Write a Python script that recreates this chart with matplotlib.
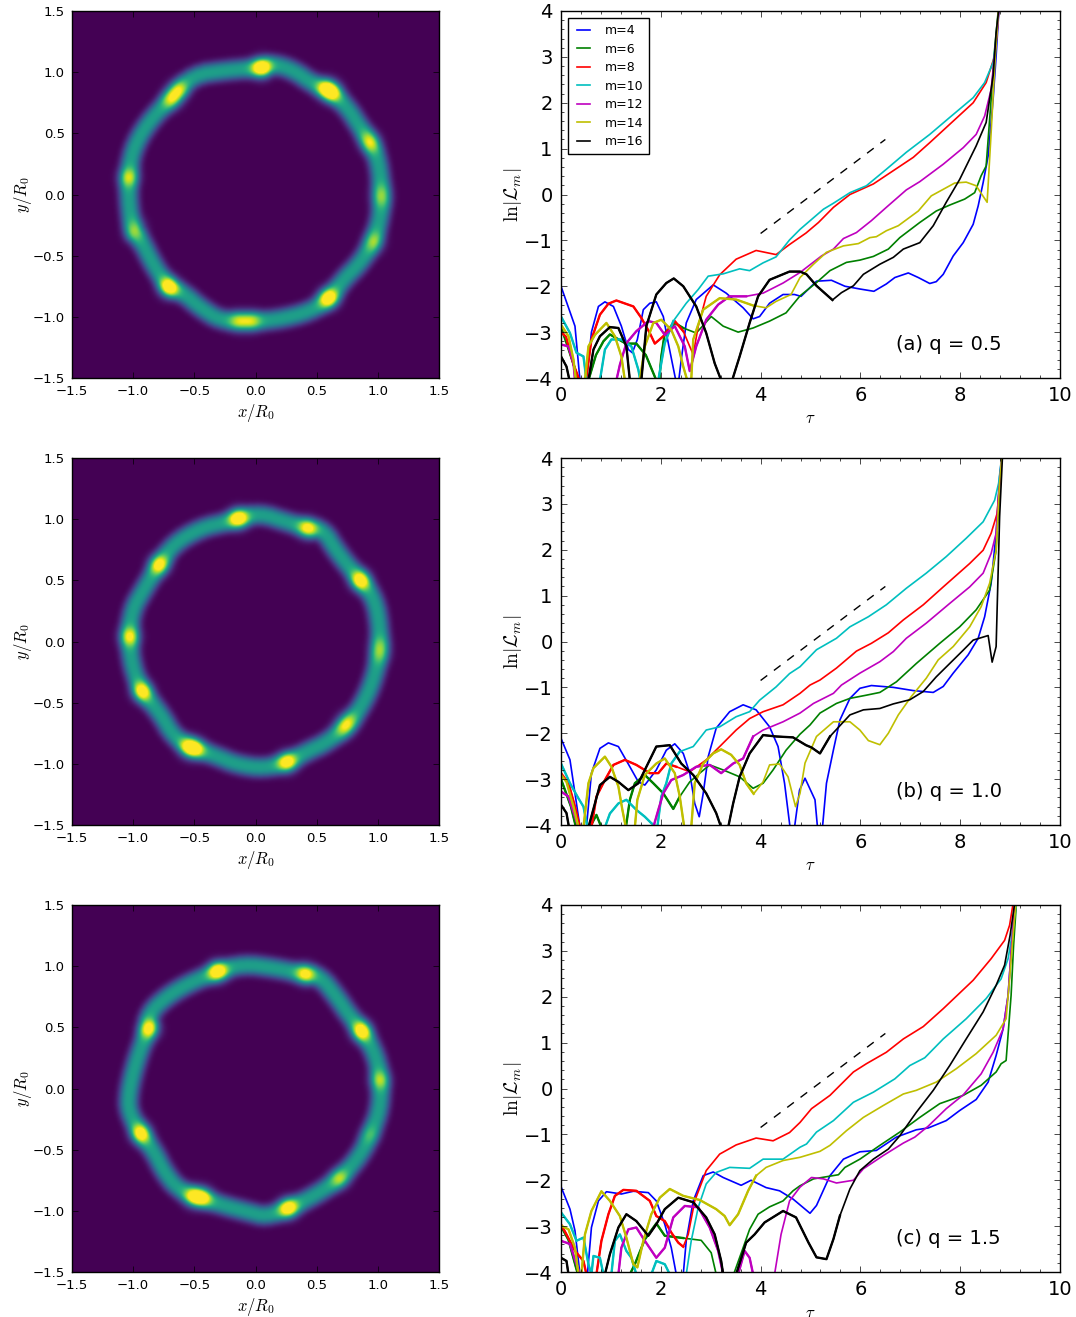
import numpy as np
import matplotlib
matplotlib.use('Agg')
import matplotlib.pyplot as plt
from matplotlib.ticker import MultipleLocator

plt.style.use('classic')
plt.rcParams['mathtext.fontset'] = 'cm'
plt.rcParams['ytick.alignment'] = 'center_baseline'

# ---- ring outlines (x, y)
ring_a = [(.05,1.04),(.15,1.07),(.31,1.02),(.47,.91),(.61,.85),(.75,.72),(.86,.55),(.94,.43),(1.01,.28),
          (1.04,-.02),(1.02,-.21),(.96,-.40),(.86,-.56),(.72,-.70),(.61,-.85),(.45,-.96),(.17,-1.03),
          (-.10,-1.04),(-.29,-1.03),(-.45,-.93),(-.59,-.81),(-.71,-.76),(-.83,-.59),(-.94,-.37),(-1.01,-.29),
          (-1.04,-.05),(-1.04,.14),(-1.01,.36),(-.89,.58),(-.67,.81),(-.51,.98),(-.23,1.02),(.05,1.04)]
ring_b = [(-.14,1.01),(.04,1.05),(.26,.98),(.43,.93),(.56,.91),(.66,.75),(.77,.61),(.87,.50),(.98,.34),
          (1.02,.12),(1.02,-.10),(.96,-.34),(.87,-.53),(.75,-.70),(.58,-.83),(.43,-.90),(.26,-.99),
          (.07,-1.04),(-.15,-1.01),(-.32,-.94),(-.52,-.87),(-.67,-.78),(-.78,-.59),(-.93,-.41),(-1.01,-.21),
          (-1.04,.04),(-1.01,.26),(-.92,.42),(-.79,.63),(-.67,.80),(-.45,.93),(-.23,.98),(-.14,1.01)]
ring_c = [(-.32,.96),(-.10,1.02),(.15,.99),(.39,.94),(.53,.92),(.66,.76),(.77,.60),(.88,.47),(.99,.27),
          (1.03,.05),(1.02,-.17),(.95,-.36),(.86,-.55),(.69,-.74),(.50,-.87),(.28,-.98),(.09,-1.05),
          (-.07,-1.01),(-.26,-.96),(-.48,-.89),(-.64,-.82),(-.75,-.68),(-.83,-.52),(-.94,-.37),(-1.04,-.19),
          (-1.04,-.03),(-.98,.22),(-.88,.49),(-.87,.62),(-.72,.76),(-.53,.87),(-.33,.95),(-.32,.96)]

# clumps on the rings (x, y, strength)
clumps_a = [(.05,1.04,.8),(.58,.87,.55),(.63,.84,.55),(.92,.46,.2),(.95,.41,.3),(1.03,.03,.15),(1.03,-.04,.2),
            (.98,-.36,.15),(.97,-.41,.2),(.60,-.85,.75),(-.14,-1.04,.35),(-.03,-1.04,.35),(-.71,-.76,.75),
            (-1.0,-.32,.2),(-.97,-.26,.15),(-1.04,.14,.4),(-.69,.78,.4),(-.63,.86,.4)]
clumps_b = [(-.14,1.01,.75),(.43,.93,.55),(.86,.50,.7),(1.02,-.03,.2),(1.02,-.11,.2),(.76,-.65,.3),(.72,-.71,.3),
            (.26,-.99,.65),(-.55,-.87,.55),(-.49,-.88,.5),(-.93,-.41,.65),(-1.03,.04,.5),(-.79,.63,.6)]
clumps_c = [(-.31,.96,.75),(.41,.94,.55),(.87,.47,.7),(1.02,.07,.35),(.94,-.38,.15),(.69,-.74,.35),
            (.27,-.98,.7),(-.51,-.89,.55),(-.43,-.89,.55),(-.94,-.37,.65),(-.87,.49,.6)]

# ---- growth curves, panel (a) q = 0.5: (tau, ln|L_m|)
a_m4 = [(0,-2.0),(.28,-2.87),(.38,-4.05),(.51,-4.05),(.61,-3.0),(.75,-2.44),(.88,-2.34),(1.05,-2.44),(1.21,-2.87),
        (1.35,-3.38),(1.43,-3.45),(1.53,-3.16),(1.65,-2.51),(1.78,-2.37),(1.91,-2.34),(2.05,-2.66),(2.15,-3.24),
        (2.3,-4.05),(2.36,-4.05),(2.41,-3.6),(2.51,-2.8),(2.71,-2.29),(3.05,-1.97),(3.31,-2.15),(3.65,-2.47),
        (3.85,-2.71),(3.98,-2.66),(4.18,-2.37),(4.45,-2.18),(4.68,-2.18),(4.81,-2.22),(5.12,-1.89),(5.42,-1.87),
        (5.69,-2.0),(5.99,-2.06),(6.27,-2.11),(6.52,-1.95),(6.69,-1.81),(6.96,-1.71),(7.16,-1.81),(7.39,-1.94),
        (7.52,-1.9),(7.66,-1.74),(7.86,-1.34),(8.06,-1.05),(8.26,-.65),(8.36,-.25),(8.46,.26),(8.56,.84),
        (8.66,2.08),(8.72,3.02),(8.78,4.1)]
a_m6 = [(0,-2.9),(.1,-3.2),(.25,-3.7),(.35,-4.05),(.55,-4.05),(.7,-3.5),(.85,-3.2),(.98,-3.05),(1.3,-3.25),
        (1.51,-3.25),(1.7,-3.5),(1.91,-4.05),(1.97,-4.05),(2.01,-3.53),(2.08,-3.02),(2.28,-2.8),(2.45,-2.91),
        (2.71,-3.02),(3.01,-2.66),(3.25,-2.87),(3.55,-3.0),(3.85,-2.91),(4.18,-2.76),(4.51,-2.58),(4.79,-2.21),
        (5.12,-1.92),(5.39,-1.66),(5.72,-1.48),(5.99,-1.43),(6.26,-1.35),(6.56,-1.19),(6.79,-.94),(7.19,-.61),
        (7.52,-.36),(7.79,-.23),(8.09,-.1),(8.29,.04),(8.42,.41),(8.52,.62),(8.62,2.08),(8.69,3.17),(8.77,4.1)]
a_m8 = [(0,-3.0),(.1,-3.1),(.25,-3.7),(.37,-4.05),(.5,-4.05),(.61,-3.16),(.78,-2.62),(.95,-2.38),(1.11,-2.31),
        (1.45,-2.44),(1.61,-2.69),(1.78,-3.02),(1.88,-3.25),(2.05,-3.09),(2.28,-2.76),(2.45,-2.98),(2.65,-3.49),
        (2.75,-2.87),(2.91,-2.22),(3.18,-1.75),(3.51,-1.41),(3.91,-1.22),(4.31,-1.31),(4.58,-1.09),(4.91,-.84),
        (5.16,-.61),(5.46,-.28),(5.79,0),(6.26,.23),(6.66,.52),(7.06,.81),(7.39,1.13),(7.79,1.53),(8.26,2.0),
        (8.52,2.44),(8.69,3.02),(8.74,3.53),(8.78,4.1)]
a_m10 = [(0,-2.66),(.18,-3.02),(.31,-3.45),(.45,-3.53),(.51,-4.05),(.78,-4.05),(.88,-3.38),(1.01,-3.16),(1.21,-3.16),
         (1.41,-3.31),(1.55,-3.82),(1.59,-4.05),(1.95,-4.05),(2.08,-3.24),(2.25,-2.76),(2.51,-2.37),(2.75,-2.07),
         (2.95,-1.78),(3.25,-1.73),(3.58,-1.62),(3.78,-1.66),(4.05,-1.49),(4.31,-1.36),(4.58,-.99),(4.79,-.76),
         (5.26,-.32),(5.46,-.19),(5.79,.04),(6.12,.19),(6.52,.55),(6.92,.92),(7.39,1.31),(7.79,1.68),(8.26,2.11),
         (8.49,2.44),(8.66,2.88),(8.72,3.38),(8.78,4.1)]
a_m12 = [(0,-3.27),(.15,-3.31),(.25,-3.67),(.28,-4.05),(1.11,-4.05),(1.18,-3.71),(1.31,-3.24),(1.51,-2.98),(1.75,-2.76),
         (1.91,-2.8),(2.08,-3.06),(2.28,-2.87),(2.48,-3.31),(2.58,-3.85),(2.71,-3.31),(2.91,-2.73),(3.15,-2.4),
         (3.38,-2.22),(3.71,-2.22),(4.05,-2.15),(4.45,-1.93),(4.79,-1.7),(5.22,-1.34),(5.46,-1.19),(5.66,-.96),
         (5.92,-.83),(6.22,-.57),(6.52,-.28),(6.92,.1),(7.19,.28),(7.66,.66),(8.06,1.02),(8.32,1.31),(8.49,1.71),
         (8.62,2.29),(8.72,3.38),(8.78,4.1)]
a_m14 = [(0,-2.84),(.15,-3.09),(.25,-3.6),(.3,-4.05),(.48,-4.05),(.55,-3.31),(.68,-3.06),(.91,-2.8),(1.08,-3.09),
         (1.21,-3.53),(1.28,-4.05),(1.58,-4.05),(1.68,-3.31),(1.85,-2.8),(2.01,-2.73),(2.21,-2.95),(2.35,-3.31),
         (2.45,-3.75),(2.53,-4.05),(2.61,-4.05),(2.65,-3.16),(2.85,-2.51),(3.18,-2.26),(3.51,-2.29),(3.85,-2.42),
         (4.11,-2.47),(4.31,-2.33),(4.61,-2.18),(4.79,-1.81),(5.06,-1.52),(5.32,-1.26),(5.66,-1.12),(5.96,-1.07),
         (6.19,-.94),(6.32,-.92),(6.52,-.79),(6.76,-.68),(7.16,-.36),(7.42,-.03),(7.89,.25),(8.12,.27),(8.32,.19),
         (8.54,-.17),(8.62,1.35),(8.7,2.95),(8.77,4.1)]
a_m16 = [(0,-3.53),(.11,-3.75),(.17,-4.05),(.55,-4.05),(.65,-3.38),(.78,-3.09),(.98,-2.89),(1.15,-2.91),(1.31,-3.31),
         (1.38,-4.05),(1.61,-4.05),(1.71,-2.87),(1.91,-2.18),(2.11,-1.93),(2.26,-1.83),(2.45,-2.0),(2.71,-2.44),
         (2.91,-3.02),(3.08,-3.68),(3.21,-4.05),(3.43,-4.05),(3.58,-3.53),(3.78,-2.8),(3.95,-2.22),(4.18,-1.86),
         (4.58,-1.68),(4.79,-1.68),(4.92,-1.74),(5.12,-1.99),(5.44,-2.3),(5.62,-2.14),(5.86,-1.99),(6.06,-1.74),
         (6.39,-1.52),(6.66,-1.37),(6.86,-1.19),(7.19,-1.05),(7.46,-.68),(7.72,-.17),(7.99,.33),(8.32,1.06),
         (8.52,1.57),(8.66,2.59),(8.72,3.53),(8.78,4.1)]

# ---- panel (b) q = 1.0
b_m4 = [(0,-2.11),(.18,-2.58),(.31,-3.53),(.38,-4.05),(.51,-4.05),(.61,-2.87),(.78,-2.33),(.95,-2.21),(1.15,-2.29),
        (1.38,-2.73),(1.55,-3.06),(1.68,-3.13),(1.91,-2.8),(2.11,-2.37),(2.28,-2.23),(2.45,-2.44),(2.58,-2.87),
        (2.68,-3.53),(2.77,-3.82),(2.85,-3.31),(2.95,-2.51),(3.11,-1.89),(3.38,-1.53),(3.65,-1.38),(3.91,-1.49),
        (4.18,-1.86),(4.35,-2.29),(4.48,-3.09),(4.59,-4.05),(4.68,-4.05),(4.78,-3.24),(4.89,-2.98),(5.09,-3.45),
        (5.14,-4.05),(5.24,-4.05),(5.32,-3.09),(5.46,-2.36),(5.59,-1.71),(5.79,-1.24),(5.99,-1.02),(6.22,-.96),
        (6.66,-1.0),(7.06,-1.07),(7.46,-1.11),(7.66,-.98),(7.86,-.69),(8.16,-.29),(8.36,.07),(8.49,.54),(8.62,1.27),
        (8.72,2.36),(8.79,3.59),(8.84,4.1)]
b_m6 = [(0,-3.0),(.2,-3.6),(.3,-4.05),(.58,-4.05),(.71,-3.78),(.81,-4.05),(1.3,-4.05),(1.38,-3.45),(1.48,-3.09),
        (1.68,-2.91),(1.85,-3.09),(2.05,-3.31),(2.25,-3.65),(2.38,-3.38),(2.58,-3.06),(2.78,-2.87),(2.98,-2.69),
        (3.25,-2.8),(3.58,-2.95),(3.85,-3.2),(4.05,-3.09),(4.25,-2.8),(4.51,-2.37),(4.79,-2.02),(4.99,-1.82),
        (5.19,-1.56),(5.52,-1.35),(5.79,-1.24),(6.12,-1.17),(6.39,-1.11),(6.72,-.88),(7.12,-.48),(7.59,-.04),
        (7.99,.32),(8.32,.69),(8.59,1.12),(8.72,1.99),(8.79,3.45),(8.84,4.1)]
b_m8 = [(0,-2.87),(.15,-3.09),(.28,-3.6),(.38,-4.05),(.61,-4.05),(.71,-3.38),(.88,-3.02),(1.05,-2.69),(1.28,-2.58),
        (1.51,-2.69),(1.78,-2.87),(1.95,-2.87),(2.11,-2.66),(2.31,-2.73),(2.58,-2.84),(2.91,-2.58),(3.18,-2.29),
        (3.51,-1.93),(3.78,-1.68),(4.05,-1.53),(4.45,-1.38),(4.79,-1.13),(4.99,-.95),(5.19,-.84),(5.52,-.58),
        (5.92,-.21),(6.22,-.04),(6.56,.19),(6.86,.47),(7.26,.8),(7.66,1.19),(8.19,1.7),(8.46,1.99),(8.62,2.36),
        (8.74,2.79),(8.79,3.45),(8.84,4.1)]
b_m10 = [(0,-2.66),(.18,-3.09),(.35,-3.42),(.45,-3.6),(.53,-4.05),(.88,-4.05),(.98,-3.75),(1.15,-3.53),(1.31,-3.45),
         (1.51,-3.67),(1.68,-3.82),(1.81,-3.96),(1.93,-4.05),(2.01,-3.38),(2.11,-3.09),(2.21,-2.66),(2.38,-2.4),
         (2.65,-2.29),(2.91,-1.93),(3.18,-1.86),(3.51,-1.64),(3.78,-1.53),(3.98,-1.28),(4.31,-.99),(4.58,-.7),
         (4.79,-.55),(5.12,-.18),(5.52,.07),(5.79,.32),(6.16,.54),(6.52,.8),(6.92,1.16),(7.32,1.49),(7.72,1.85),
         (8.12,2.25),(8.46,2.61),(8.69,3.08),(8.77,3.45),(8.84,4.1)]
b_m12 = [(0,-3.27),(.15,-3.38),(.28,-3.82),(.35,-4.05),(1.85,-4.05),(1.95,-3.67),(2.05,-3.31),(2.21,-3.02),(2.45,-2.91),
         (2.71,-2.73),(2.98,-2.69),(3.21,-2.87),(3.45,-2.66),(3.65,-2.55),(3.85,-2.07),(4.05,-1.93),(4.45,-1.75),
         (4.79,-1.56),(5.06,-1.35),(5.46,-1.13),(5.62,-.95),(5.99,-.69),(6.39,-.44),(6.66,-.22),(6.92,.07),(7.32,.4),
         (7.79,.83),(8.19,1.19),(8.46,1.49),(8.62,1.92),(8.72,2.36),(8.79,3.45),(8.84,4.1)]
b_m14 = [(0,-2.91),(.11,-3.06),(.25,-3.6),(.35,-4.05),(.45,-4.05),(.55,-3.09),(.65,-2.76),(.88,-2.51),(1.01,-2.73),
         (1.15,-3.16),(1.23,-3.67),(1.3,-4.05),(1.48,-4.05),(1.53,-3.45),(1.68,-2.91),(1.91,-2.66),(2.08,-2.55),
         (2.28,-2.87),(2.38,-3.38),(2.47,-4.05),(2.61,-4.05),(2.68,-3.09),(2.85,-2.66),(3.05,-2.44),(3.21,-2.35),
         (3.41,-2.47),(3.58,-2.69),(3.71,-3.09),(3.86,-3.32),(4.05,-3.06),(4.18,-2.69),(4.38,-2.67),(4.55,-2.95),
         (4.7,-3.6),(4.79,-3.31),(4.89,-2.65),(5.12,-2.07),(5.46,-1.75),(5.79,-1.75),(5.99,-1.93),(6.16,-2.16),
         (6.39,-2.25),(6.56,-2.0),(6.76,-1.6),(7.02,-1.2),(7.32,-.8),(7.56,-.4),(7.86,-.11),(8.19,.32),(8.42,.76),
         (8.59,1.27),(8.72,1.99),(8.79,3.45),(8.84,4.1)]
b_m16 = [(0,-3.56),(.11,-3.74),(.16,-4.05),(.55,-4.05),(.68,-3.53),(.78,-3.13),(.98,-2.95),(1.15,-3.06),(1.35,-3.24),
         (1.55,-3.09),(1.68,-2.8),(1.91,-2.29),(2.18,-2.26),(2.41,-2.66),(2.65,-2.91),(2.91,-3.31),(3.11,-3.74),
         (3.21,-4.05),(3.35,-4.05),(3.45,-3.53),(3.58,-2.95),(3.78,-2.44),(4.05,-2.04),(4.31,-2.07),(4.65,-2.09),
         (4.91,-2.26),(5.02,-2.31),(5.19,-2.44),(5.39,-2.07),(5.79,-1.6),(6.06,-1.49),(6.39,-1.46),(6.66,-1.36),
         (6.99,-1.27),(7.26,-1.09),(7.52,-.77),(7.79,-.48),(8.06,-.19),(8.26,.03),(8.56,.13),(8.64,-.45),(8.72,-.11),
         (8.79,2.72),(8.85,4.1)]

# ---- panel (c) q = 1.5
c_m4 = [(0,-2.14),(.18,-2.63),(.28,-3.1),(.38,-4.05),(.53,-4.05),(.61,-3.03),(.75,-2.45),(.91,-2.25),(1.21,-2.3),
        (1.45,-2.24),(1.75,-2.27),(1.91,-2.45),(2.08,-2.96),(2.21,-3.47),(2.31,-4.05),(2.45,-4.05),(2.51,-3.32),
        (2.65,-2.45),(2.85,-1.9),(3.05,-1.82),(3.25,-1.94),(3.61,-2.11),(3.81,-2.0),(4.11,-2.16),(4.38,-2.23),
        (4.65,-2.41),(4.99,-2.72),(5.12,-2.55),(5.39,-1.9),(5.66,-1.54),(5.99,-1.38),(6.32,-1.35),(6.72,-1.06),
        (7.12,-.9),(7.36,-.86),(7.72,-.7),(7.99,-.48),(8.32,-.24),(8.56,.14),(8.72,.72),(8.86,1.3),(8.96,2.03),
        (9.02,2.98),(9.1,4.1)]
c_m6 = [(0,-3.0),(.15,-3.3),(.3,-3.9),(.34,-4.05),(1.38,-4.05),(1.48,-3.83),(1.68,-3.29),(1.91,-2.94),(2.08,-3.21),
        (2.45,-3.26),(2.81,-3.31),(3.01,-3.58),(3.11,-4.05),(3.46,-4.05),(3.65,-3.47),(3.78,-3.07),(3.95,-2.74),
        (4.18,-2.58),(4.45,-2.45),(4.65,-2.23),(4.79,-2.12),(5.06,-1.97),(5.56,-1.88),(5.69,-1.72),(5.99,-1.54),
        (6.39,-1.24),(6.79,-.95),(7.19,-.63),(7.59,-.33),(8.06,-.15),(8.42,.07),(8.72,.36),(8.82,.54),(8.92,.61),
        (9.02,2.03),(9.07,3.12),(9.13,4.1)]
c_m8 = [(0,-2.96),(.11,-3.18),(.28,-3.54),(.45,-3.76),(.51,-4.05),(.71,-4.05),(.81,-3.32),(.95,-2.74),(1.08,-2.34),
        (1.25,-2.21),(1.51,-2.23),(1.78,-2.45),(1.91,-2.78),(2.08,-2.89),(2.21,-3.14),(2.35,-3.36),(2.45,-3.45),
        (2.55,-3.18),(2.68,-2.45),(2.91,-1.79),(3.18,-1.43),(3.51,-1.23),(3.91,-1.08),(4.25,-1.14),(4.58,-.96),
        (4.79,-.74),(5.02,-.44),(5.39,-.15),(5.86,.36),(6.12,.54),(6.52,.79),(6.86,1.08),(7.26,1.35),(7.66,1.74),
        (8.26,2.36),(8.62,2.83),(8.89,3.23),(8.99,3.56),(9.07,4.1)]
c_m10 = [(0,-2.7),(.18,-2.96),(.31,-3.32),(.45,-3.25),(.55,-3.83),(.61,-4.05),(.65,-3.65),(.78,-3.69),(.85,-4.05),
         (1.01,-4.05),(1.08,-3.32),(1.18,-3.18),(1.31,-3.54),(1.41,-3.69),(1.51,-4.05),(1.81,-4.05),(1.91,-3.76),
         (2.08,-3.83),(2.18,-4.05),(2.51,-4.05),(2.61,-3.32),(2.75,-2.59),(2.91,-2.08),(3.11,-1.83),(3.38,-1.72),
         (3.78,-1.74),(4.05,-1.54),(4.45,-1.54),(4.79,-1.28),(4.92,-1.21),(5.12,-.95),(5.46,-.7),(5.86,-.3),
         (6.26,-.08),(6.69,.21),(6.99,.5),(7.29,.67),(7.66,1.08),(8.12,1.52),(8.52,1.96),(8.82,2.39),(8.96,2.83),
         (9.06,3.49),(9.13,4.1)]
c_m12 = [(0,-3.32),(.18,-3.39),(.31,-3.83),(.38,-4.05),(1.15,-4.05),(1.21,-3.47),(1.35,-3.07),(1.51,-3.03),(1.68,-3.32),
         (1.91,-3.69),(2.08,-3.47),(2.25,-2.81),(2.48,-2.56),(2.75,-2.59),(2.98,-3.03),(3.15,-3.54),(3.25,-4.05),
         (3.55,-4.05),(3.68,-3.54),(3.78,-3.69),(3.85,-4.05),(4.28,-4.05),(4.41,-3.18),(4.58,-2.45),(4.79,-2.15),
         (5.02,-1.94),(5.26,-1.97),(5.52,-2.06),(5.86,-2.0),(6.06,-1.75),(6.46,-1.46),(6.86,-1.19),(7.09,-1.06),
         (7.36,-.82),(7.72,-.44),(8.06,-.14),(8.42,.32),(8.66,.79),(8.86,1.3),(8.96,2.03),(9.02,2.98),(9.1,4.1)]
c_m14 = [(0,-2.99),(.15,-3.07),(.28,-3.47),(.35,-4.05),(.41,-4.05),(.48,-3.18),(.61,-2.67),(.81,-2.24),(.98,-2.45),
         (1.18,-2.78),(1.31,-3.25),(1.45,-3.83),(1.53,-3.9),(1.65,-3.32),(1.81,-2.74),(1.98,-2.38),(2.18,-2.19),
         (2.45,-2.34),(2.78,-2.43),(3.11,-2.63),(3.28,-2.78),(3.38,-2.98),(3.55,-2.74),(3.75,-2.23),(3.91,-1.9),
         (4.11,-1.72),(4.45,-1.57),(4.79,-1.5),(5.19,-1.37),(5.39,-1.24),(5.72,-.92),(6.06,-.63),(6.46,-.37),
         (6.86,-.12),(7.12,-.04),(7.52,.14),(7.92,.43),(8.32,.76),(8.72,1.16),(8.92,1.52),(8.99,2.39),(9.06,3.34),
         (9.12,4.1)]
c_m16 = [(0,-3.69),(.11,-3.76),(.15,-4.05),(.88,-4.05),(.98,-3.61),(1.15,-3.03),(1.31,-2.74),(1.51,-2.89),(1.75,-3.21),
         (1.91,-2.96),(2.08,-2.63),(2.35,-2.38),(2.65,-2.48),(2.91,-2.81),(3.08,-3.18),(3.21,-3.76),(3.25,-4.05),
         (3.51,-4.05),(3.71,-3.36),(3.88,-3.18),(4.08,-2.92),(4.45,-2.67),(4.71,-2.81),(4.96,-3.36),(5.12,-3.68),
         (5.32,-3.72),(5.46,-3.28),(5.59,-2.77),(5.79,-2.19),(5.99,-1.79),(6.26,-1.54),(6.56,-1.32),(6.79,-1.03),
         (7.12,-.52),(7.46,-.04),(7.79,.5),(8.12,1.08),(8.46,1.67),(8.72,2.25),(8.89,2.69),(9.0,3.34),(9.1,4.1)]

mode_labels = ['m=4', 'm=6', 'm=8', 'm=10', 'm=12', 'm=14', 'm=16']
mode_colors = ['b', 'g', 'r', 'c', 'm', 'y', 'k']
# below these tau the measured curves are noisy and look thicker
noisy_until = [0, 2.5, 2.5, 2.5, 4, 4, 5.6]
panel_text = ['(a) q = 0.5', '(b) q = 1.0', '(c) q = 1.5']
guide_tau = [4, 6.5]
guide_val = [-0.85, 1.2]

curves = [[a_m4, a_m6, a_m8, a_m10, a_m12, a_m14, a_m16],
          [b_m4, b_m6, b_m8, b_m10, b_m12, b_m14, b_m16],
          [c_m4, c_m6, c_m8, c_m10, c_m12, c_m14, c_m16]]
rings = [ring_a, ring_b, ring_c]
clumps = [clumps_a, clumps_b, clumps_c]

W, H = 1076.0, 1317.0
tops = [11, 458, 905]


def density(ring, blobs):
    # soft tube around the ring outline plus the bright clumps
    gx, gy = np.meshgrid(np.linspace(-1.5, 1.5, 300), np.linspace(-1.5, 1.5, 300))
    p = np.array(ring)[:-1]
    # cut the corners twice so the tube is not a polygon
    for _ in range(2):
        q = np.roll(p, -1, axis=0)
        p = np.vstack([0.75 * p + 0.25 * q, 0.25 * p + 0.75 * q])
        n = len(p) // 2
        p = p[np.column_stack([np.arange(n), np.arange(n) + n]).ravel()]
    p = np.vstack([p, p[0]])
    d2 = np.full(gx.shape, 1e9)
    for (x0, y0), (x1, y1) in zip(p[:-1], p[1:]):
        dx, dy = x1 - x0, y1 - y0
        s = np.clip(((gx - x0) * dx + (gy - y0) * dy) / (dx * dx + dy * dy), 0, 1)
        d2 = np.minimum(d2, (gx - x0 - s * dx) ** 2 + (gy - y0 - s * dy) ** 2)
    z = 0.56 * np.exp(-(d2 / 0.078 ** 2) ** 1.3)
    for bx, by, st in blobs:
        z += st * np.exp(-((gx - bx) ** 2 + (gy - by) ** 2) / (2 * 0.056 ** 2))
    return np.clip(z, 0, 1)


fig = plt.figure(figsize=(W / 100, H / 100), facecolor='w')

for i in range(3):
    top = tops[i]
    ax = fig.add_axes([72 / W, 1 - (top + 367) / H, 367 / W, 367 / H])
    ax.imshow(density(rings[i], clumps[i]), extent=[-1.5, 1.5, -1.5, 1.5], origin='lower',
              cmap='viridis', vmin=0, vmax=1, interpolation='bilinear', aspect='auto')
    ax.set_xlim(-1.5, 1.5)
    ax.set_ylim(-1.5, 1.5)
    ax.set_xticks(np.arange(-1.5, 1.6, 0.5))
    ax.set_yticks(np.arange(-1.5, 1.6, 0.5))
    ax.tick_params(labelsize=9.5, pad=5)
    ax.set_xlabel(r'$x/R_0$', fontsize=12, labelpad=3)
    ax.set_ylabel(r'$y/R_0$', fontsize=12, labelpad=-1)

    ax = fig.add_axes([561 / W, 1 - (top + 367) / H, 499 / W, 367 / H])
    for j in range(7):
        t, v = np.array(curves[i][j]).T
        ax.plot(t, v, color=mode_colors[j], lw=1.2, label=mode_labels[j])
        cut = t <= noisy_until[j]
        if cut.any():
            ax.plot(t[cut], v[cut], color=mode_colors[j], lw=1.7)
    ax.plot(guide_tau, guide_val, 'k--', lw=1.0)
    ax.set_xlim(0, 10)
    ax.set_ylim(-4, 4)
    ax.xaxis.set_minor_locator(MultipleLocator(0.4))
    ax.yaxis.set_minor_locator(MultipleLocator(0.2))
    ax.tick_params(labelsize=14, pad=6)
    ax.set_xlabel(r'$\tau$', fontsize=12, labelpad=3)
    ax.set_ylabel(r'$\mathrm{ln}|\mathcal{L}_m|$', fontsize=14, labelpad=0)
    ax.text(6.71, -3.27, panel_text[i], fontsize=14, va='center')
    if i == 0:
        handles = [l for l in ax.get_lines() if l.get_label() in mode_labels]
        ax.legend(handles, mode_labels, loc='upper left', fontsize=9, labelspacing=0.44,
                  numpoints=2, handlelength=1.6, handletextpad=0.9, borderpad=0.45,
                  bbox_to_anchor=(0.006, 0.99), borderaxespad=0.3, fancybox=False, framealpha=1)

fig.savefig('out.png', dpi=100)
